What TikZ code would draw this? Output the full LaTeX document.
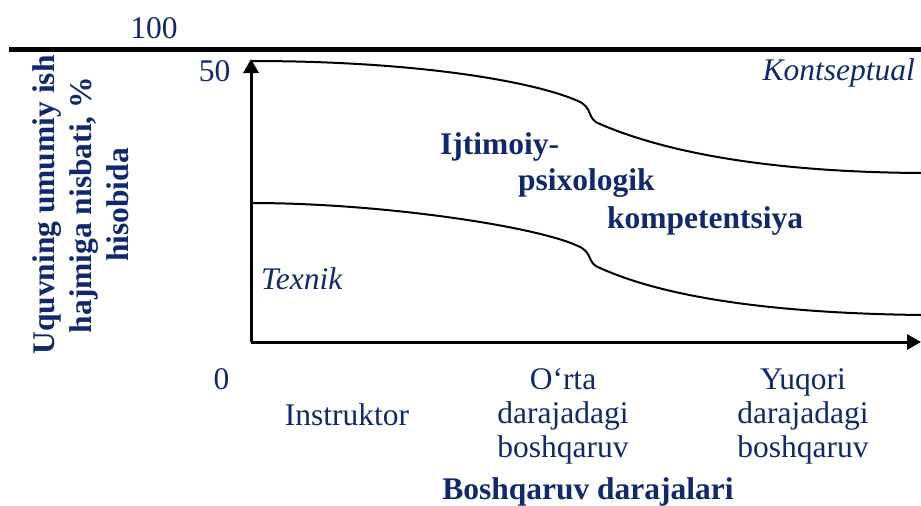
\documentclass[tikz,border=0pt]{standalone}
\usepackage{fontspec}
\setmainfont{Liberation Serif}
\usetikzlibrary{arrows.meta}
\definecolor{navy}{RGB}{16,41,110}
\begin{document}
\begin{tikzpicture}[x=1pt,y=-1pt,
  lbl/.style={inner sep=0pt,text=navy,font=\fontsize{31.5}{34}\selectfont},
  blbl/.style={lbl,font=\fontsize{31.5}{34}\selectfont\bfseries},
  ilbl/.style={lbl,font=\fontsize{31.5}{34}\selectfont\itshape},
  axis/.style={line width=3pt,-{Triangle[length=14pt,width=15pt]}},
  curve/.style={line width=2pt}]
\useasboundingbox (0,0) rectangle (921,506);
% top thick line
\coordinate (tl) at (9,49.5);
\coordinate (tr) at (921,49.5);
\draw[line width=5.5pt] (tl) -- (tr);
% axes
\coordinate (o) at (251,342);
\coordinate (ytip) at (251,59);
\coordinate (xtip) at (921,342);
\draw[axis] (o) -- (ytip);
\draw[axis] (o) -- (xtip);
% curves
\coordinate (u0) at (251,61);
\coordinate (u1) at (578,101);
\coordinate (u2) at (600,124);
\coordinate (u3) at (921,173);
\draw[curve] (u0) .. controls (420,61) and (535,82) .. (u1)
  .. controls (594,108) and (586,119) .. (u2)
  .. controls (660,150) and (760,172) .. (u3);
\coordinate (l0) at (251,203);
\coordinate (l1) at (578,246);
\coordinate (l2) at (600,268);
\coordinate (l3) at (921,315);
\draw[curve] (l0) .. controls (380,203) and (535,226) .. (l1)
  .. controls (594,253) and (586,263) .. (l2)
  .. controls (660,295) and (760,313) .. (l3);
% texts
\node[lbl,anchor=base] (n100) at (154,38) {100};
\node[lbl,anchor=base] (n50) at (214.5,81) {50};
\node[lbl,anchor=base] (n0) at (221.5,389) {0};
\node[ilbl,anchor=base east] (kon) at (915,80) {Kontseptual};
\node[ilbl,anchor=base west] (tex) at (261,289) {Texnik};
\node[blbl,anchor=base west] (ij) at (440,154) {Ijtimoiy-};
\node[blbl,anchor=base west] (ps) at (518,190) {psixologik};
\node[blbl,anchor=base west] (ko) at (607,228) {kompetentsiya};
\node[lbl,anchor=base] (ins) at (347,425) {Instruktor};
\node[lbl,anchor=base,align=center] (ort) at (563,457) {O‘rta\\darajadagi\\boshqaruv};
\node[lbl,anchor=base,align=center] (yuq) at (803,457) {Yuqori\\darajadagi\\boshqaruv};
\node[blbl,anchor=base] (xl) at (588,499) {Boshqaruv darajalari};
\node[blbl,rotate=90,align=center,font=\fontsize{31.5}{37}\selectfont\bfseries] (yl) at (81,205) {Uquvning umumiy ish\\hajmiga nisbati, \%\\hisobida};
\end{tikzpicture}
\end{document}
